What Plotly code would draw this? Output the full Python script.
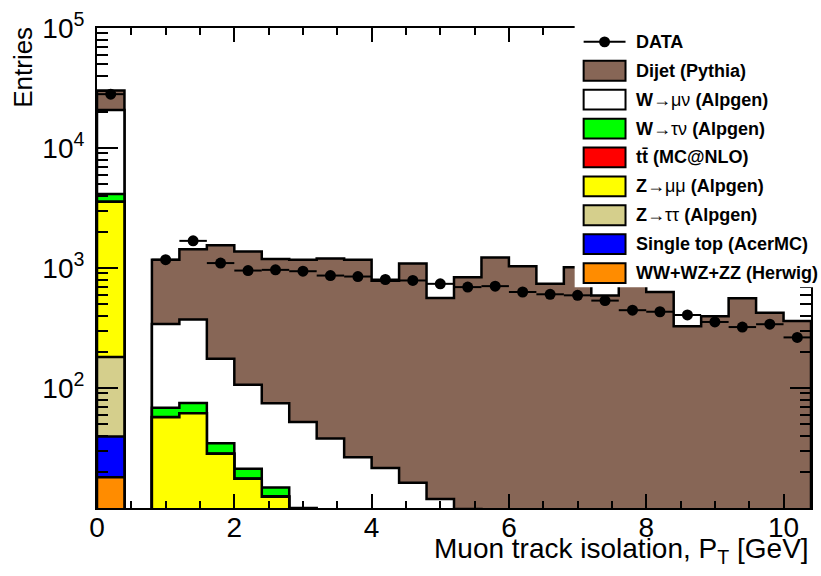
import numpy as np
import plotly.graph_objects as go

# ---- binning: 26 bins of 0.4 GeV from 0 to 10.4 GeV ----
bin_edges = [0.0, 0.4, 0.8, 1.2, 1.6, 2.0, 2.4, 2.8, 3.2, 3.6, 4.0, 4.4, 4.8,
             5.2, 5.6, 6.0, 6.4, 6.8, 7.2, 7.6, 8.0, 8.4, 8.8, 9.2, 9.6, 10.0, 10.4]

# ---- observed events per bin ----
data = [28100, 0, 1172, 1683, 1099, 952, 965, 940, 865, 849, 802, 787, 738,
        693, 706, 631, 604, 592, 535, 445, 432, 406, 355, 322, 340, 264]

# ---- simulated samples per bin ----
dijet = [9500, 0, 831, 1064, 1373, 1267, 1114, 1119, 1164, 1145, 763, 1073, 550,
         826, 1216, 1027, 733, 1010, 587, 717, 629, 326, 394, 559, 423, 361]
w_munu = [16570, 0, 273, 297, 141, 85, 60, 42, 31, 21.4, 17.8, 13.2, 9.7,
          7.9, 5.0, 4.0, 3.5, 2.8, 2.2, 1.8, 1.5, 1.2, 1.0, 0.9, 0.8, 0.7]
w_taunu = [567, 0, 11.0, 13.3, 6.2, 3.6, 2.3, 2.0, 1.5, 1.2, 1.0, 0.8, 0.6,
           0.5, 0.4, 0.3, 0.3, 0.2, 0.2, 0.2, 0.1, 0.1, 0.1, 0.1, 0.1, 0.1]
ttbar = [3.0, 0, 0.2, 0.2, 0.1, 0.1, 0.1, 0.1, 0.1, 0.1, 0.1, 0.1, 0.1,
         0.1, 0.1, 0.1, 0.1, 0.1, 0.1, 0.1, 0.1, 0.1, 0.1, 0.1, 0.1, 0.1]
z_mumu = [3379, 0, 55.4, 59.9, 26.9, 16.4, 11.4, 7.0, 4.5, 3.0, 2.0, 1.5, 1.0,
          0.8, 0.5, 0.4, 0.3, 0.3, 0.2, 0.2, 0.1, 0.1, 0.1, 0.1, 0.1, 0.1]
z_tautau = [141.5, 0, 1.2, 1.1, 0.9, 0.8, 0.7, 0.6, 0.5, 0.5, 0.4, 0.4, 0.3,
            0.3, 0.3, 0.2, 0.2, 0.2, 0.2, 0.1, 0.1, 0.1, 0.1, 0.1, 0.1, 0.1]
single_top = [21.5, 0, 0.3, 0.3, 0.3, 0.2, 0.2, 0.2, 0.2, 0.2, 0.1, 0.1, 0.1,
              0.1, 0.1, 0.1, 0.1, 0.1, 0.1, 0.1, 0.1, 0.1, 0.1, 0.1, 0.1, 0.1]
diboson = [18.0, 0, 0.2, 0.2, 0.2, 0.1, 0.1, 0.1, 0.1, 0.1, 0.1, 0.1, 0.1,
           0.1, 0.1, 0.1, 0.1, 0.1, 0.1, 0.1, 0.1, 0.1, 0.1, 0.1, 0.1, 0.1]

# stack order from bottom to top, with ROOT-like fill colours
samples = [
    ("WW+WZ+ZZ (Herwig)", diboson, "#FF8C00"),
    ("Single top (AcerMC)", single_top, "#0000FF"),
    ("Z→ττ (Alpgen)", z_tautau, "#D5CF8C"),
    ("Z→μμ (Alpgen)", z_mumu, "#FFFF00"),
    ("tt̄ (MC@NLO)", ttbar, "#FF0000"),
    ("W→τν (Alpgen)", w_taunu, "#00FF00"),
    ("W→μν (Alpgen)", w_munu, "#FFFFFF"),
    ("Dijet (Pythia)", dijet, "#876656"),
]

FLOOR = 0.1  # below the visible log range
edges = np.array(bin_edges)


def step_polygon(values):
    xs, ys = [edges[0]], [FLOOR]
    for i, v in enumerate(values):
        v = v if v > 0 else FLOOR
        xs += [edges[i], edges[i + 1]]
        ys += [v, v]
    xs += [edges[-1], edges[0]]
    ys += [FLOOR, FLOOR]
    return xs, ys


fig = go.Figure()

# cumulative sums, painted from the top of the stack downwards
cum = np.cumsum(np.array([s[1] for s in samples], dtype=float), axis=0)
for idx in range(len(samples) - 1, -1, -1):
    name, _, color = samples[idx]
    xs, ys = step_polygon(cum[idx])
    fig.add_trace(go.Scatter(
        x=xs, y=ys, mode="lines", fill="toself", fillcolor=color,
        line=dict(color="black", width=2.5), name=name, hoverinfo="skip"))

# data points with horizontal bin-width bars and Poisson errors
centers = 0.5 * (edges[:-1] + edges[1:])
d = np.array(data, dtype=float)
mask = d > 0
fig.add_trace(go.Scatter(
    x=centers[mask], y=d[mask], mode="markers", name="DATA",
    marker=dict(color="black", size=11),
    error_x=dict(type="constant", value=0.2, width=0, thickness=2, color="black"),
    error_y=dict(type="data", array=np.sqrt(d[mask]), width=0, thickness=2, color="black"),
))

# ---- geometry of the plot frame in pixels ----
W, H = 821, 576
L, R, T, B = 97, 8, 23, 68
PW, PH = W - L - R, H - T - B


def px(xp):
    return (xp - L) / PW


def py(yp):
    return (H - B - yp) / PH


FONT = "Liberation Sans, Arial, Helvetica, sans-serif"

x_major = [0, 2, 4, 6, 8, 10]
x_minor = [v / 2 for v in range(0, 21) if v % 4 != 0]
y_major = [1e2, 1e3, 1e4, 1e5]
y_major_text = ["10<sup>2</sup>", "10<sup>3</sup>", "10<sup>4</sup>", "10<sup>5</sup>"]
y_minor = [m * 10 ** e for e in range(1, 5) for m in range(2, 10)]

fig.update_layout(
    width=W, height=H,
    margin=dict(l=L, r=R, t=T, b=B, pad=0),
    paper_bgcolor="white", plot_bgcolor="white",
    showlegend=False,
    font=dict(family=FONT, color="black"),
    xaxis=dict(
        range=[0, 10.4], tickvals=x_major, ticktext=[str(v) for v in x_major],
        ticks="inside", ticklen=14, tickwidth=1.5, tickcolor="black",
        showline=True, linewidth=2, linecolor="black", mirror="allticks",
        showgrid=False, zeroline=False, ticklabelstandoff=-7,
        tickfont=dict(size=28, family=FONT),
        minor=dict(tickvals=x_minor, ticks="inside", ticklen=7, tickwidth=1.5,
                   tickcolor="black", showgrid=False),
    ),
    yaxis=dict(
        type="log", range=[1, 5], tickvals=y_major, ticktext=y_major_text,
        ticks="inside", ticklen=21, tickwidth=1.5, tickcolor="black",
        showline=True, linewidth=2, linecolor="black", mirror="allticks",
        showgrid=False, zeroline=False, ticklabelstandoff=5,
        tickfont=dict(size=28, family=FONT),
        minor=dict(tickvals=y_minor, ticks="inside", ticklen=11, tickwidth=1.5,
                   tickcolor="black", showgrid=False),
    ),
)

annotations = []
shapes = []

# axis titles (ROOT style: aligned to the far end of the axis)
annotations.append(dict(
    text="Muon track isolation, P<sub>T</sub> [GeV]", xref="paper", yref="paper",
    x=px(813), y=py(551), xanchor="right", yanchor="middle", showarrow=False,
    font=dict(size=28, family=FONT)))
annotations.append(dict(
    text="Entries", xref="paper", yref="paper", textangle=-90,
    x=px(22), y=py(63), xanchor="center", yanchor="middle", showarrow=False,
    font=dict(size=26, family=FONT)))

# legend panel
shapes.append(dict(type="rect", xref="paper", yref="paper", layer="above",
                   x0=px(576), x1=px(821), y0=py(285), y1=py(0),
                   fillcolor="white", line=dict(width=0)))

row0, dy = 37, 29.2
legend_rows = [("DATA", None)] + [(s[0], s[2]) for s in reversed(samples)]
legend_html = {
    "DATA": "<b>DATA</b>",
    "Dijet (Pythia)": "<b>Dijet (Pythia)</b>",
    "W→μν (Alpgen)": "<b>W</b>→μν <b>(Alpgen)</b>",
    "W→τν (Alpgen)": "<b>W</b>→τν <b>(Alpgen)</b>",
    "tt̄ (MC@NLO)": "<b>tt̄ (MC@NLO)</b>",
    "Z→μμ (Alpgen)": "<b>Z</b>→μμ <b>(Alpgen)</b>",
    "Z→ττ (Alpgen)": "<b>Z</b>→ττ <b>(Alpgen)</b>",
    "Single top (AcerMC)": "<b>Single top (AcerMC)</b>",
    "WW+WZ+ZZ (Herwig)": "<b>WW+WZ+ZZ (Herwig)</b>",
}
for i, (name, color) in enumerate(legend_rows):
    yc = row0 + i * dy
    if color is None:
        shapes.append(dict(type="line", xref="paper", yref="paper", layer="above",
                           x0=px(585), x1=px(627), y0=py(yc), y1=py(yc),
                           line=dict(color="black", width=2)))
        shapes.append(dict(type="circle", xref="paper", yref="paper", layer="above",
                           x0=px(600.5), x1=px(611.5), y0=py(yc - 5.5), y1=py(yc + 5.5),
                           fillcolor="black", line=dict(color="black", width=0)))
    else:
        shapes.append(dict(type="rect", xref="paper", yref="paper", layer="above",
                           x0=px(585), x1=px(627), y0=py(yc + 10), y1=py(yc - 10),
                           fillcolor=color, line=dict(color="black", width=2)))
    annotations.append(dict(
        text=legend_html[name], xref="paper", yref="paper",
        x=px(636), y=py(yc), xanchor="left", yanchor="middle", showarrow=False,
        font=dict(size=18, family=FONT)))

fig.update_layout(annotations=annotations, shapes=shapes)

fig.write_html("out.html")
